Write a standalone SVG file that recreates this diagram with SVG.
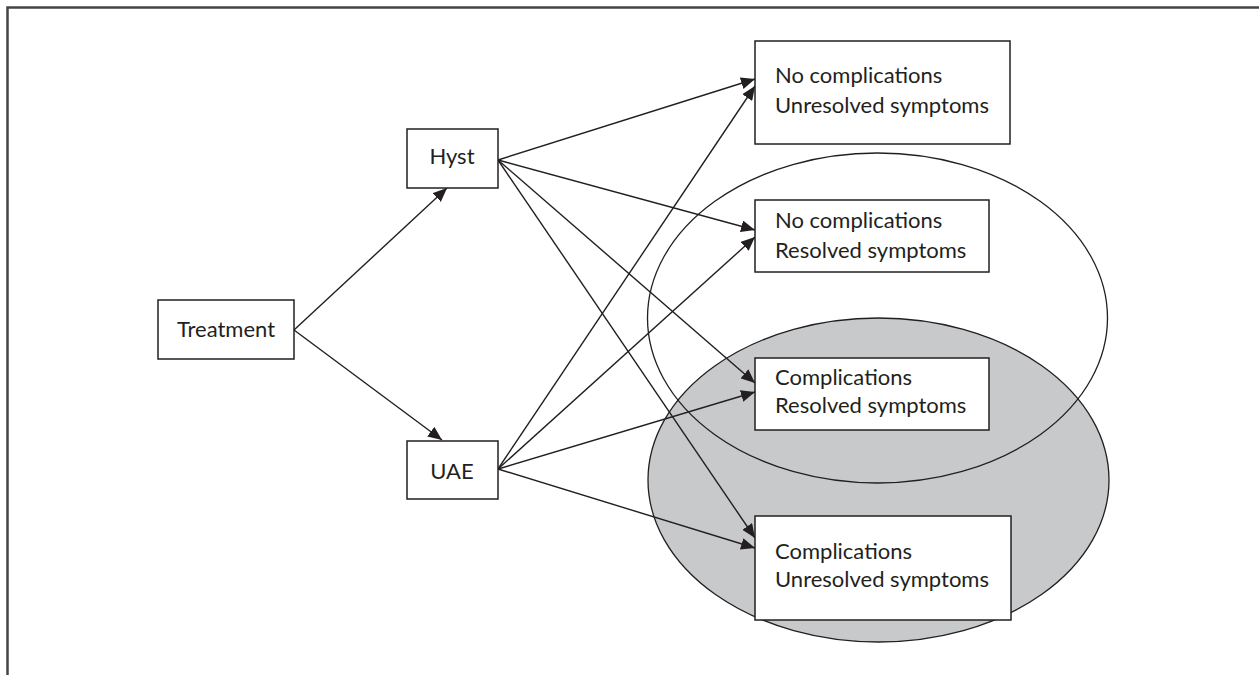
<svg xmlns="http://www.w3.org/2000/svg" width="1259" height="675" viewBox="0 0 1259 675">
  <defs>
    <marker id="arrow" markerUnits="userSpaceOnUse" markerWidth="14" markerHeight="12" viewBox="0 0 14 12" refX="14" refY="6" orient="auto">
      <path d="M0,0 L14,6 L0,12 Z" fill="#231f20"/>
    </marker>
    <style>
      .box { fill: #ffffff; stroke: #231f20; stroke-width: 1.5; }
      .lbl { font-family: Lato, "Open Sans", sans-serif; font-size: 22px; fill: #231f20; }
      .mid { text-anchor: middle; }
      .edge { stroke: #231f20; stroke-width: 1.4; fill: none; marker-end: url(#arrow); }
      .frame { stroke: #444444; stroke-width: 2.5; fill: none; }
    </style>
  </defs>
  <rect width="1259" height="675" fill="#ffffff"/>

  <!-- open frame: top and left edges only -->
  <path class="frame" d="M7.5,675 L7.5,7.5 L1259,7.5"/>

  <!-- outcome groupings -->
  <g id="groups">
    <ellipse cx="878.5" cy="480" rx="230.5" ry="162" fill="#c8c9cb" stroke="#231f20" stroke-width="1.3"/>
    <ellipse cx="877.5" cy="318" rx="230" ry="165" fill="none" stroke="#231f20" stroke-width="1.3"/>
  </g>

  <g id="connectors">
    <line class="edge" x1="294" y1="330" x2="447" y2="188"/>
    <line class="edge" x1="294" y1="330" x2="442" y2="440"/>
    <line class="edge" x1="498" y1="160" x2="755" y2="79"/>
    <line class="edge" x1="498" y1="160" x2="755" y2="230"/>
    <line class="edge" x1="498" y1="160" x2="755" y2="383"/>
    <line class="edge" x1="498" y1="160" x2="755" y2="538"/>
    <line class="edge" x1="498" y1="469" x2="755" y2="86"/>
    <line class="edge" x1="498" y1="469" x2="755" y2="237"/>
    <line class="edge" x1="498" y1="469" x2="755" y2="392"/>
    <line class="edge" x1="498" y1="469" x2="755" y2="548"/>
  </g>

  <g id="treatment">
    <rect class="box" x="158" y="300" width="136" height="59"/>
    <text class="lbl mid" x="226" y="337">Treatment</text>
  </g>

  <g id="hyst">
    <rect class="box" x="407" y="129" width="91" height="59"/>
    <text class="lbl mid" x="452" y="164">Hyst</text>
  </g>

  <g id="uae">
    <rect class="box" x="407" y="441" width="91" height="58"/>
    <text class="lbl mid" x="452" y="479">UAE</text>
  </g>

  <g id="nocomp-unresolved">
    <rect class="box" x="755" y="41" width="255" height="103"/>
    <text class="lbl" x="775" y="83">No complications</text>
    <text class="lbl" x="775" y="113">Unresolved symptoms</text>
  </g>

  <g id="nocomp-resolved">
    <rect class="box" x="755" y="200" width="234" height="72"/>
    <text class="lbl" x="775" y="228">No complications</text>
    <text class="lbl" x="775" y="258">Resolved symptoms</text>
  </g>

  <g id="comp-resolved">
    <rect class="box" x="755" y="358" width="234" height="72"/>
    <text class="lbl" x="775" y="385">Complications</text>
    <text class="lbl" x="775" y="413">Resolved symptoms</text>
  </g>

  <g id="comp-unresolved">
    <rect class="box" x="755" y="516" width="256" height="104"/>
    <text class="lbl" x="775" y="559">Complications</text>
    <text class="lbl" x="775" y="587">Unresolved symptoms</text>
  </g>
</svg>
